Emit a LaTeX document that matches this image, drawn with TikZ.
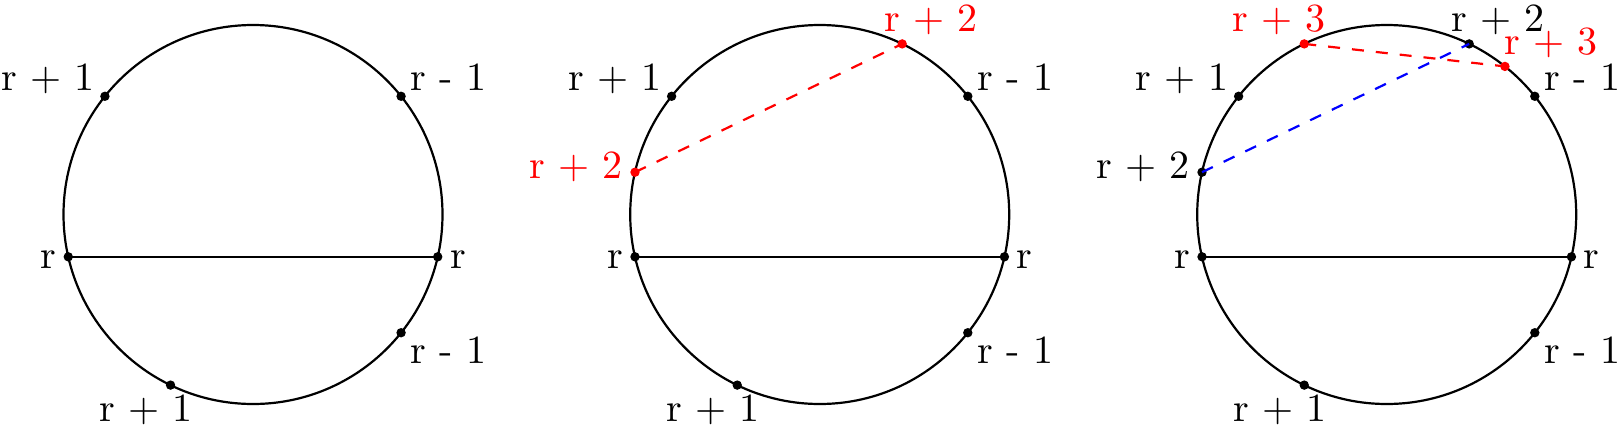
\documentclass[tikz,border=0pt]{standalone}
\newcommand{\basefig}[1]{%
  \draw[curve] (0,0) circle (189.5);
  \coordinate (#1tl) at (141.4:189.5);
  \coordinate (#1tr) at (38.6:189.5);
  \coordinate (#1l) at (192.9:189.5);
  \coordinate (#1r) at (-12.9:189.5);
  \coordinate (#1br) at (-38.6:189.5);
  \coordinate (#1b) at (-115.8:189.5);
  \draw[curve] (#1l) -- (#1r);
  \foreach \p in {tl,tr,l,r,br,b} \fill (#1\p) circle (4.7);
  \node[lbl, anchor=base east] (#1tlt) at (-157.3,123.8) {r + 1};
  \node[lbl, anchor=base west] (#1trt) at (156.9,123.8) {r - 1};
  \node[lbl, anchor=base east] (#1lt) at (-195.8,-53.8) {r};
  \node[lbl, anchor=base west] (#1rt) at (196.2,-53.8) {r};
  \node[lbl, anchor=base west] (#1brt) at (156.9,-148.8) {r - 1};
  \node[lbl, anchor=base west] (#1bt) at (-154.5,-207.2) {r + 1};
}
\begin{document}
\begin{tikzpicture}[x=0.25pt,y=0.25pt,
  curve/.style={line width=0.55pt},
  lbl/.style={inner sep=0pt},
  reddash/.style={red, dashed, line width=0.55pt},
  bluedash/.style={blue, dashed, line width=0.55pt}]
\useasboundingbox (0,0) rectangle (1624,430);
% first
\begin{scope}[shift={(253,215.5)}]
  \basefig{a}
\end{scope}
% second
\begin{scope}[shift={(819.7,215.5)}]
  \basefig{b}
  \coordinate (btop) at (64.2:189.5);
  \coordinate (bleft) at (167.1:189.5);
  \draw[reddash] (bleft) -- (btop);
  \fill[red] (btop) circle (4.7);
  \fill[red] (bleft) circle (4.7);
  \node[lbl, red, anchor=base west] (btopt) at (64,182.8) {r + 2};
  \node[lbl, red, anchor=base east] (bleftt) at (-196,36.2) {r + 2};
\end{scope}
% third
\begin{scope}[shift={(1386.7,215.5)}]
  \basefig{c}
  \coordinate (ctopl) at (115.8:189.5);
  \coordinate (ctop) at (64.2:189.5);
  \coordinate (cright) at (51.4:189.5);
  \coordinate (cleft) at (167.1:189.5);
  \fill (ctop) circle (4.7);
  \fill (cleft) circle (4.7);
  \draw[reddash] (ctopl) -- (cright);
  \draw[bluedash] (cleft) -- (ctop);
  \fill[red] (ctopl) circle (4.7);
  \fill[red] (cright) circle (4.7);
  \node[lbl, red, anchor=base west] (ctoplt) at (-155,182.8) {r + 3};
  \node[lbl, anchor=base west] (ctopt) at (64,182.8) {r + 2};
  \node[lbl, red, anchor=base west] (crightt) at (117,160.5) {r + 3};
  \node[lbl, anchor=base east] (cleftt) at (-196,36.2) {r + 2};
\end{scope}
\end{tikzpicture}
\end{document}
